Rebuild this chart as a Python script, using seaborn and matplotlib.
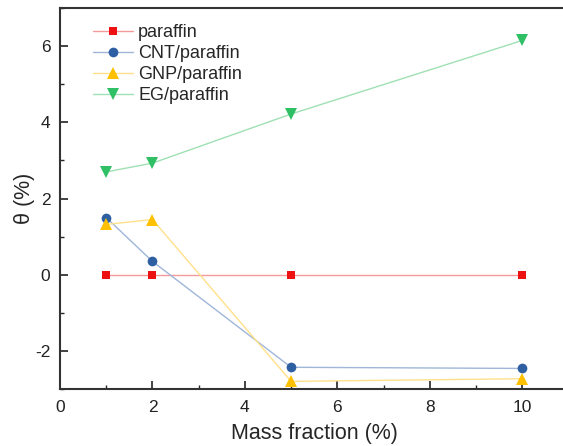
import numpy as np
import pandas as pd
import matplotlib
matplotlib.use("Agg")
import matplotlib.pyplot as plt
import seaborn as sns
from matplotlib.ticker import MultipleLocator

mass_fraction = [1, 2, 5, 10]
paraffin = [0.0, 0.0, 0.0, 0.0]
cnt = [1.50, 0.35, -2.43, -2.46]
gnp = [1.32, 1.45, -2.80, -2.73]
eg = [2.70, 2.93, 4.22, 6.15]
series_names = ["paraffin", "CNT/paraffin", "GNP/paraffin", "EG/paraffin"]

marker_colors = ["#ee1111", "#2e5fa3", "#ffc000", "#2fbf64"]
line_colors = ["#f59a9a", "#9fb6d8", "#ffe08a", "#9fe0b4"]
markers = ["s", "o", "^", "v"]
marker_sizes = [6.0, 7.0, 8.0, 8.0]

rows = []
for name, vals in zip(series_names, [paraffin, cnt, gnp, eg]):
    for x, y in zip(mass_fraction, vals):
        rows.append({"x": x, "y": y, "series": name})
df = pd.DataFrame(rows)

sns.set_style("ticks")
plt.rcParams["font.family"] = ["Liberation Sans", "DejaVu Sans"]
plt.rcParams["axes.unicode_minus"] = False

fig = plt.figure(figsize=(5.63, 4.46), dpi=100)
ax = fig.add_axes([0.1066, 0.1278, 0.903, 0.854])

sns.lineplot(data=df, x="x", y="y", hue="series", style="series",
             hue_order=series_names, style_order=series_names,
             palette=dict(zip(series_names, marker_colors)),
             markers=dict(zip(series_names, markers)), dashes=False,
             markersize=7, markeredgewidth=0, linewidth=1.0, ax=ax)

for line, lc, mc, ms in zip(ax.lines[:4], line_colors, marker_colors, marker_sizes):
    line.set_color(lc)
    line.set_markerfacecolor(mc)
    line.set_markeredgecolor(mc)
    line.set_markersize(ms)

ax.set_xlim(0, 11)
ax.set_ylim(-3, 7)
ax.xaxis.set_major_locator(MultipleLocator(2))
ax.xaxis.set_minor_locator(MultipleLocator(1))
ax.yaxis.set_major_locator(MultipleLocator(2))
ax.yaxis.set_minor_locator(MultipleLocator(1))
ax.tick_params(which="major", direction="in", length=6, width=1.2, labelsize=12.5, colors="#222222")
ax.tick_params(which="minor", direction="in", length=3, width=1.0)
ax.tick_params(axis="x", which="major", pad=8)
ax.tick_params(axis="y", which="major", pad=7)
ax.set_xticks([0, 2, 4, 6, 8, 10])
for s in ["left", "bottom", "top"]:
    ax.spines[s].set_linewidth(1.5)
    ax.spines[s].set_color("#333333")
ax.spines["right"].set_visible(False)

ax.set_xlabel("Mass fraction (%)", fontsize=15.5, labelpad=6)
ax.set_ylabel("θ (%)", fontsize=15.5, labelpad=0)

handles, labels = ax.get_legend_handles_labels()
for h, lc, mc, ms in zip(handles, line_colors, marker_colors, marker_sizes):
    h.set_color(lc)
    h.set_markerfacecolor(mc)
    h.set_markeredgecolor(mc)
    h.set_markersize(ms)
    h.set_linewidth(1.0)
ax.legend(handles, labels, loc="upper left", bbox_to_anchor=(0.033, 1.0),
          frameon=False, fontsize=13, handlelength=2.2, labelspacing=0.22,
          handletextpad=0.3)

fig.savefig("out.png", dpi=100)
